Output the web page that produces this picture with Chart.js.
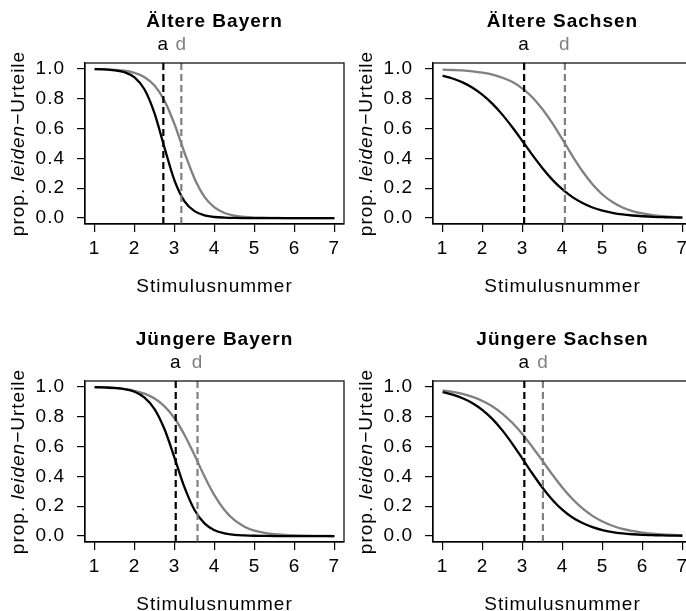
<!DOCTYPE html>
<html><head><meta charset="utf-8">
<script src="https://cdn.jsdelivr.net/npm/chart.js@4/dist/chart.umd.min.js"></script>
<style>
html,body{margin:0;padding:0;background:#fff;overflow:hidden;}
#wrap{position:relative;width:686px;height:611px;overflow:hidden;background:#fff;}
canvas{position:absolute;}
</style></head><body>
<div id="wrap">
<canvas id="c0" width="346" height="300" style="left:0px;top:0px;width:346px;height:300px"></canvas>
<canvas id="c1" width="346" height="300" style="left:348px;top:0px;width:346px;height:300px"></canvas>
<canvas id="c2" width="346" height="300" style="left:0px;top:318px;width:346px;height:300px"></canvas>
<canvas id="c3" width="346" height="300" style="left:348px;top:318px;width:346px;height:300px"></canvas>
</div>
<script>
// ---- data ----
const stimulus = [1,1.25,1.5,1.75,2,2.25,2.5,2.75,3,3.25,3.5,3.75,4,4.25,4.5,4.75,5,5.25,5.5,5.75,6,6.25,6.5,6.75,7];
const xTicks = [1,2,3,4,5,6,7];
const yTicks = [0,0.2,0.4,0.6,0.8,1];
const yTickLabels = ['0.0','0.2','0.4','0.6','0.8','1.0'];
const xLimits = [0.76, 7.24];
const yLimits = [-0.04, 1.04];
const panelTitles = ['Ältere Bayern','Ältere Sachsen','Jüngere Bayern','Jüngere Sachsen'];

const aeltereBayernA = [0.999,0.997,0.991,0.978,0.943,0.862,0.702,0.471,0.251,0.112,0.046,0.018,0.007,0.003,0.001,0,0,0,0,0,0,0,0,0,0];
const aeltereBayernD = [0.999,0.997,0.994,0.988,0.974,0.945,0.889,0.786,0.629,0.438,0.265,0.142,0.071,0.034,0.016,0.007,0.003,0.002,0.001,0,0,0,0,0,0];
const aeltereSachsenA = [0.955,0.936,0.910,0.874,0.826,0.766,0.692,0.607,0.515,0.422,0.334,0.256,0.192,0.140,0.101,0.071,0.050,0.035,0.024,0.017,0.012,0.008,0.006,0.004,0.003];
const aeltereSachsenD = [0.996,0.993,0.990,0.984,0.975,0.962,0.941,0.912,0.868,0.809,0.730,0.635,0.527,0.416,0.314,0.227,0.158,0.107,0.071,0.047,0.031,0.020,0.013,0.008,0.005];
const juengereBayernA = [0.999,0.997,0.994,0.986,0.968,0.929,0.852,0.716,0.525,0.326,0.175,0.085,0.039,0.018,0.008,0.004,0.002,0.001,0,0,0,0,0,0,0];
const juengereBayernD = [0.997,0.995,0.992,0.985,0.974,0.955,0.922,0.870,0.790,0.678,0.543,0.400,0.273,0.175,0.106,0.063,0.036,0.021,0.012,0.007,0.004,0.002,0.001,0.001,0];
const juengereSachsenA = [0.965,0.948,0.924,0.891,0.845,0.784,0.707,0.617,0.518,0.418,0.324,0.242,0.175,0.124,0.087,0.060,0.040,0.027,0.018,0.012,0.008,0.006,0.004,0.003,0.002];
const juengereSachsenD = [0.977,0.967,0.953,0.933,0.906,0.869,0.820,0.758,0.683,0.596,0.504,0.411,0.324,0.248,0.185,0.135,0.097,0.069,0.048,0.034,0.023,0.016,0.011,0.008,0.005];

const boundaryA = [2.72, 3.04, 3.03, 3.045];
const boundaryD = [3.17, 4.06, 3.575, 3.51];

const seriesA = [aeltereBayernA, aeltereSachsenA, juengereBayernA, juengereSachsenA];
const seriesD = [aeltereBayernD, aeltereSachsenD, juengereBayernD, juengereSachsenD];

// ---- style ----
const FONT = '"Liberation Sans", Arial, Helvetica, sans-serif';
const FS = 19;
const BLACK = '#000000';
const GRAY = '#808080';
const SPACING = '1px';
Chart.defaults.font.family = FONT;
Chart.defaults.font.size = FS;
Chart.defaults.color = '#000';

const panelText = {
  id: 'panelText',
  beforeDraw(chart) { chart.ctx.letterSpacing = SPACING; },
  afterDraw(chart, args, opts) {
    const ctx = chart.ctx, a = chart.chartArea, sx = chart.scales.x;
    ctx.save();
    ctx.letterSpacing = SPACING;
    ctx.strokeStyle = '#000'; ctx.lineWidth = 1.2;
    ctx.strokeRect(a.left, a.top, a.right - a.left, a.bottom - a.top);
    const cx = (a.left + a.right) / 2;
    ctx.textAlign = 'center'; ctx.textBaseline = 'alphabetic';
    ctx.fillStyle = BLACK;
    ctx.font = 'bold ' + FS + 'px ' + FONT;
    ctx.fillText(opts.title, cx, a.top - 36);
    ctx.font = FS + 'px ' + FONT;
    ctx.fillText('a', sx.getPixelForValue(opts.a), a.top - 13);
    ctx.fillStyle = GRAY;
    ctx.fillText('d', sx.getPixelForValue(opts.d), a.top - 13);
    ctx.fillStyle = BLACK;
    ctx.fillText('Stimulusnummer', cx, a.bottom + 68);
    // rotated y-axis title with italic part
    const parts = [['prop. ', FS + 'px ' + FONT], ['leiden', 'italic ' + FS + 'px ' + FONT], ['\u2212Urteile', FS + 'px ' + FONT]];
    let total = 0;
    const widths = parts.map(p => { ctx.font = p[1]; const w = ctx.measureText(p[0]).width; total += w; return w; });
    ctx.translate(a.left - 61.5, (a.top + a.bottom) / 2);
    ctx.rotate(-Math.PI / 2);
    ctx.textAlign = 'left';
    let xPos = -total / 2;
    parts.forEach((p, i) => { ctx.font = p[1]; ctx.fillText(p[0], xPos, 0); xPos += widths[i]; });
    ctx.restore();
  }
};

function makePanel(idx) {
  const curveA = stimulus.map((x, i) => ({x: x, y: seriesA[idx][i]}));
  const curveD = stimulus.map((x, i) => ({x: x, y: seriesD[idx][i]}));
  const lineA = [{x: boundaryA[idx], y: yLimits[0]}, {x: boundaryA[idx], y: yLimits[1]}];
  const lineD = [{x: boundaryD[idx], y: yLimits[0]}, {x: boundaryD[idx], y: yLimits[1]}];
  new Chart(document.getElementById('c' + idx), {
    type: 'line',
    data: {
      datasets: [
        {data: lineA, borderColor: BLACK, borderWidth: 2.2, borderDash: [7, 4], pointRadius: 0, order: 0},
        {data: lineD, borderColor: GRAY, borderWidth: 2.2, borderDash: [7, 4], pointRadius: 0, order: 0},
        {data: curveA, borderColor: BLACK, borderWidth: 2.3, pointRadius: 0, cubicInterpolationMode: 'monotone', order: 1},
        {data: curveD, borderColor: GRAY, borderWidth: 2.3, pointRadius: 0, cubicInterpolationMode: 'monotone', order: 2}
      ]
    },
    options: {
      responsive: false,
      animation: false,
      devicePixelRatio: 1,
      events: [],
      layout: {padding: {top: 63, right: 2, left: 0, bottom: 0}},
      plugins: {
        legend: {display: false},
        title: {display: false},
        tooltip: {enabled: false},
        panelText: {title: panelTitles[idx], a: boundaryA[idx], d: boundaryD[idx]}
      },
      scales: {
        x: {
          type: 'linear', min: xLimits[0], max: xLimits[1],
          afterBuildTicks: s => { s.ticks = xTicks.map(v => ({value: v})); },
          afterFit: s => { s.height = 76; },
          ticks: {color: '#000', padding: 5, maxRotation: 0, autoSkip: false, font: {size: FS}, callback: v => String(v)},
          grid: {display: true, drawOnChartArea: false, drawTicks: true, tickLength: 8, color: '#000', lineWidth: 1.2},
          border: {display: true, color: '#000', width: 1.2}
        },
        y: {
          type: 'linear', min: yLimits[0], max: yLimits[1],
          afterBuildTicks: s => { s.ticks = yTicks.map(v => ({value: v})); },
          afterFit: s => { s.width = 85; },
          ticks: {color: '#000', padding: 12, font: {size: FS}, callback: (v, i) => yTickLabels[i]},
          grid: {display: true, drawOnChartArea: false, drawTicks: true, tickLength: 8, color: '#000', lineWidth: 1.2},
          border: {display: true, color: '#000', width: 1.2}
        }
      }
    },
    plugins: [panelText]
  });
}
[0, 1, 2, 3].forEach(makePanel);
</script>
</body></html>
